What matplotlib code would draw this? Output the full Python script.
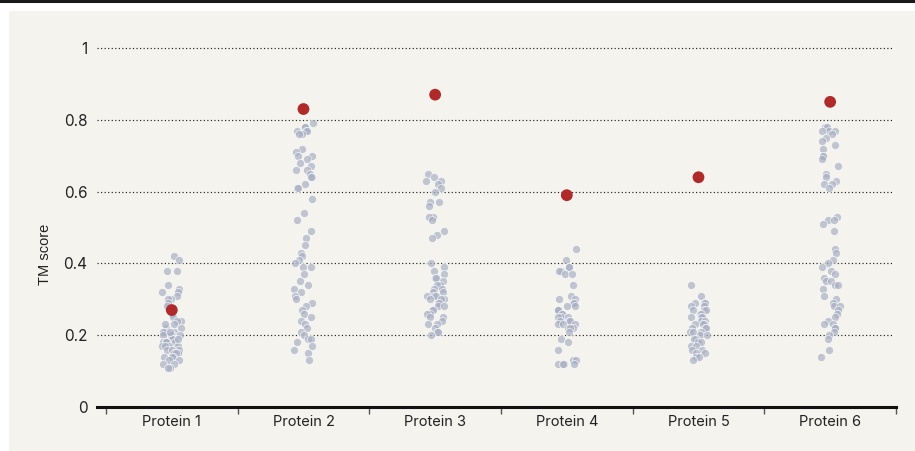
import numpy as np
import matplotlib.pyplot as plt
from matplotlib.patches import Rectangle

proteins = ["Protein 1", "Protein 2", "Protein 3", "Protein 4", "Protein 5", "Protein 6"]

# TM score of the highlighted model per protein
best = [0.27, 0.83, 0.87, 0.59, 0.64, 0.85]

p1 = [0.42, 0.41, 0.38, 0.38, 0.34, 0.33, 0.32, 0.32, 0.31, 0.30, 0.30, 0.29,
      0.28, 0.27, 0.26, 0.25, 0.24, 0.24, 0.23, 0.22, 0.22, 0.21, 0.21, 0.21,
      0.20, 0.20, 0.20, 0.20, 0.19, 0.19, 0.19, 0.18, 0.18, 0.18, 0.18, 0.18,
      0.17, 0.17, 0.17, 0.17, 0.16, 0.16, 0.16, 0.15, 0.15, 0.15, 0.14, 0.14,
      0.14, 0.13, 0.13, 0.12, 0.12, 0.11, 0.11, 0.23, 0.19, 0.21]
p2 = [0.79, 0.78, 0.78, 0.77, 0.77, 0.77, 0.76, 0.76, 0.72, 0.71, 0.70, 0.70,
      0.69, 0.68, 0.67, 0.66, 0.66, 0.65, 0.64, 0.64, 0.62, 0.61, 0.61, 0.58,
      0.54, 0.52, 0.49, 0.47, 0.45, 0.43, 0.42, 0.41, 0.40, 0.39, 0.39, 0.37,
      0.35, 0.34, 0.33, 0.32, 0.31, 0.30, 0.29, 0.28, 0.27, 0.26, 0.25, 0.24,
      0.23, 0.22, 0.21, 0.20, 0.19, 0.19, 0.18, 0.17, 0.16, 0.15, 0.13]
p3 = [0.65, 0.64, 0.63, 0.63, 0.62, 0.61, 0.60, 0.57, 0.57, 0.56, 0.53, 0.53,
      0.52, 0.49, 0.48, 0.47, 0.40, 0.39, 0.38, 0.37, 0.36, 0.36, 0.35, 0.34,
      0.34, 0.33, 0.33, 0.32, 0.32, 0.31, 0.31, 0.31, 0.30, 0.30, 0.30, 0.29,
      0.29, 0.28, 0.28, 0.27, 0.27, 0.26, 0.26, 0.25, 0.25, 0.24, 0.23, 0.23,
      0.22, 0.21, 0.21, 0.20]
p4 = [0.44, 0.41, 0.39, 0.39, 0.38, 0.38, 0.37, 0.37, 0.34, 0.31, 0.30, 0.30,
      0.29, 0.29, 0.28, 0.28, 0.27, 0.27, 0.27, 0.26, 0.26, 0.25, 0.25, 0.25,
      0.24, 0.24, 0.24, 0.23, 0.23, 0.23, 0.22, 0.22, 0.22, 0.21, 0.19, 0.18,
      0.16, 0.13, 0.13, 0.12, 0.12, 0.12, 0.12]
p5 = [0.34, 0.31, 0.29, 0.29, 0.29, 0.28, 0.28, 0.27, 0.27, 0.27, 0.26, 0.26,
      0.25, 0.25, 0.25, 0.24, 0.24, 0.23, 0.23, 0.23, 0.22, 0.22, 0.22, 0.21,
      0.21, 0.21, 0.20, 0.20, 0.19, 0.19, 0.18, 0.18, 0.17, 0.17, 0.16, 0.16,
      0.15, 0.15, 0.14, 0.14, 0.13]
p6 = [0.78, 0.78, 0.77, 0.77, 0.77, 0.76, 0.75, 0.74, 0.73, 0.72, 0.70, 0.70,
      0.69, 0.67, 0.65, 0.64, 0.63, 0.62, 0.62, 0.61, 0.53, 0.52, 0.52, 0.51,
      0.49, 0.44, 0.43, 0.41, 0.40, 0.39, 0.38, 0.37, 0.36, 0.35, 0.35, 0.34,
      0.34, 0.33, 0.31, 0.30, 0.29, 0.28, 0.28, 0.27, 0.26, 0.25, 0.24, 0.23,
      0.23, 0.22, 0.22, 0.21, 0.20, 0.19, 0.16, 0.14]
samples = [p1, p2, p3, p4, p5, p6]

W, H = 915, 451
fig = plt.figure(figsize=(W / 100, H / 100), dpi=100, facecolor="white")

# beige panel and top rule
fig.patches.append(Rectangle((9 / W, 0), 1, (H - 11) / H, transform=fig.transFigure,
                             facecolor="#f4f3ee", edgecolor="none", zorder=-10))
fig.lines.append(plt.Line2D([0, 1], [1 - 1 / H, 1 - 1 / H], transform=fig.transFigure,
                            color="#1a1a1a", linewidth=2.2, zorder=-5))

ymax = 1.02
ax = fig.add_axes([97 / W, (H - 407) / H, (896 - 97) / W, ymax * 359 / H])
ax.set_facecolor("none")
ax.set_zorder(1)

rng = np.random.default_rng(7)
for i, vals in enumerate(samples):
    jitter = rng.uniform(-0.072, 0.072, len(vals))
    ax.scatter(i + jitter, vals, s=34, color="#a9b0c3", alpha=0.7,
               edgecolors="white", linewidths=0.6, zorder=3)

ax.scatter(range(len(best)), best, s=72, color="#b02a2a", edgecolors="none",
           zorder=4, clip_on=False)

ax.set_xlim(-0.568, 5.5)
ax.set_ylim(0, ymax)

ax.set_yticks([0, 0.2, 0.4, 0.6, 0.8, 1.0])
ax.set_yticklabels(["0", "0.2", "0.4", "0.6", "0.8", "1"], fontsize=11, family="Inter",
                   color="#222222")
ax.tick_params(axis="y", length=0, pad=7)
for y in [0.2, 0.4, 0.6, 0.8, 1.0]:
    ax.axhline(y, xmax=0.996, color="#222222", linewidth=0.85, linestyle=(0, (1, 2.0)),
               zorder=1)

ax.set_xticks(np.arange(-0.5, 6.0, 1.0))
ax.set_xticklabels([])
ax.set_xticks(range(len(proteins)), minor=True)
ax.set_xticklabels(proteins, minor=True, fontsize=10.5, family="Inter", color="#222222")
ax.tick_params(axis="x", which="major", direction="out", length=5, width=1,
               color="#555555")
ax.tick_params(axis="x", which="minor", length=0, pad=6)

for side in ["top", "right", "left"]:
    ax.spines[side].set_visible(False)
ax.spines["bottom"].set_linewidth(2.2)
ax.spines["bottom"].set_color("#111111")

ax.set_ylabel("TM score", fontsize=10.5, family="Liberation Sans", color="#222222")
ax.yaxis.set_label_coords(-0.056, 0.418)

fig.savefig("out.png", dpi=100, facecolor="white")
